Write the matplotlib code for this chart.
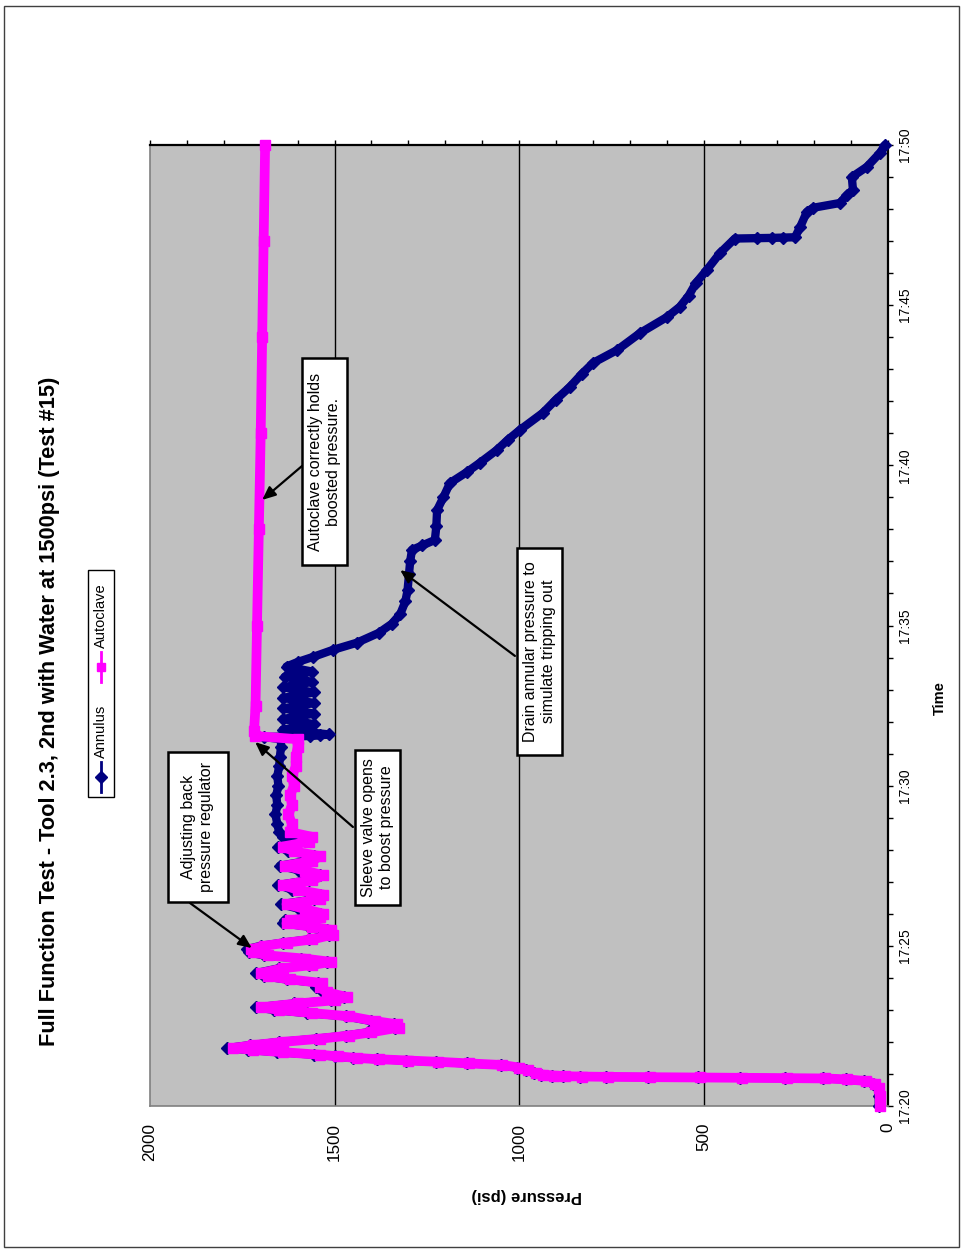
import matplotlib
matplotlib.use("Agg")
import matplotlib.pyplot as plt
from matplotlib.patches import Rectangle
from matplotlib.lines import Line2D
from matplotlib.ticker import FixedLocator, FixedFormatter, MultipleLocator

plt.rcParams['font.family'] = ['Liberation Sans', 'DejaVu Sans']

title = "Full Function Test - Tool 2.3, 2nd with Water at 1500psi (Test #15)"
series_names = ["Annulus", "Autoclave"]
x_label = "Pressure (psi)"
y_label = "Time"

# time axis: minutes after 17:20
time_ticks = [0, 5, 10, 15, 20, 25, 30]
time_tick_labels = ["17:20", "17:25", "17:30", "17:35", "17:40", "17:45", "17:50"]
pressure_ticks = [0, 500, 1000, 1500, 2000]

autoclave_min = [
    0.00, 0.30, 0.55, 0.70, 0.78, 0.83, 0.86, 0.87, 0.88, 0.89,
    0.90, 0.91, 0.92, 0.93, 0.95, 0.98, 1.03, 1.12, 1.20, 1.28,
    1.33, 1.38, 1.42, 1.46, 1.50, 1.55, 1.60, 1.68, 1.75, 1.81,
    1.90, 2.00, 2.10, 2.20, 2.30, 2.45, 2.55, 2.65, 2.80, 2.90,
    3.00, 3.08, 3.20, 3.30, 3.40, 3.55, 3.70, 3.84, 3.95, 4.05,
    4.15, 4.30, 4.40, 4.50, 4.60, 4.70, 4.80, 4.90, 5.00, 5.10,
    5.20, 5.35, 5.50, 5.60, 5.70, 5.80, 5.90, 6.00, 6.15, 6.30,
    6.45, 6.60, 6.75, 6.90, 7.05, 7.20, 7.35, 7.50, 7.65, 7.80,
    7.95, 8.10, 8.25, 8.40, 8.55, 8.80, 9.10, 9.40, 9.70, 10.00,
    10.30, 10.60, 10.90, 11.20, 11.45, 11.55, 11.70, 12.50, 15.00, 18.00,
    21.00, 24.00, 27.00, 30.00,
]
autoclave_psi = [
    22, 22, 25, 35, 60, 110, 170, 275, 395, 510,
    645, 760, 830, 875, 905, 935, 955, 975, 1000, 1045,
    1135, 1220, 1300, 1380, 1440, 1490, 1540, 1640, 1720, 1775,
    1720, 1640, 1540, 1460, 1400, 1325, 1330, 1390, 1460, 1560,
    1650, 1700, 1600, 1500, 1466, 1520, 1540, 1534, 1620, 1680,
    1700, 1640, 1560, 1510, 1580, 1680, 1720, 1725, 1690, 1630,
    1560, 1505, 1510, 1560, 1630, 1620, 1540, 1530, 1580, 1630,
    1540, 1530, 1600, 1640, 1560, 1530, 1580, 1635, 1560, 1540,
    1610, 1640, 1570, 1560, 1620, 1615, 1625, 1615, 1620, 1610,
    1615, 1605, 1605, 1600, 1600, 1715, 1718, 1714, 1710, 1705,
    1700, 1696, 1692, 1688,
]

annulus_min = [
    0.00, 0.30, 0.55, 0.70, 0.78, 0.83, 0.86, 0.87, 0.88, 0.89,
    0.90, 0.91, 0.92, 0.93, 0.95, 0.98, 1.03, 1.12, 1.20, 1.28,
    1.33, 1.38, 1.42, 1.46, 1.50, 1.55, 1.60, 1.68, 1.75, 1.81,
    1.90, 2.00, 2.10, 2.20, 2.30, 2.45, 2.55, 2.65, 2.80, 2.90,
    3.00, 3.08, 3.20, 3.30, 3.40, 3.55, 3.70, 3.84, 3.95, 4.05,
    4.15, 4.30, 4.40, 4.50, 4.60, 4.70, 4.80, 4.90, 5.00, 5.10,
    5.20, 5.35, 5.50, 5.60, 5.70, 5.80, 5.90, 6.00, 6.15, 6.30,
    6.45, 6.60, 6.75, 6.90, 7.05, 7.20, 7.35, 7.50, 7.65, 7.80,
    7.95, 8.10, 8.25, 8.40, 8.55, 8.80, 9.10, 9.40, 9.70, 10.00,
    10.30, 10.60, 10.90, 11.20, 11.45, 11.52, 11.55, 11.57, 11.60, 11.75,
    11.92, 12.08, 12.25, 12.41, 12.58, 12.74, 12.91, 13.07, 13.24, 13.40,
    13.56, 13.72, 13.86, 14.02, 14.24, 14.46, 14.77, 15.05, 15.35, 15.75,
    16.10, 16.60, 17.00, 17.36, 17.50, 17.67, 18.10, 18.60, 19.00, 19.45,
    19.80, 20.08, 20.48, 20.80, 21.11, 21.64, 22.05, 22.45, 22.85, 23.20,
    23.60, 24.13, 24.63, 24.95, 25.30, 25.70, 26.10, 26.63, 27.08, 27.09,
    27.10, 27.11, 27.12, 27.44, 27.91, 28.04, 28.19, 28.44, 28.60, 29.00,
    29.32, 29.75, 30.00,
]
annulus_psi = [
    25, 25, 28, 40, 65, 115, 175, 280, 400, 515,
    650, 765, 835, 880, 910, 940, 960, 980, 1005, 1050,
    1140, 1225, 1305, 1385, 1450, 1500, 1555, 1655, 1735, 1790,
    1730, 1650, 1550, 1470, 1410, 1335, 1340, 1400, 1470, 1575,
    1665, 1712, 1610, 1510, 1475, 1530, 1550, 1545, 1630, 1692,
    1712, 1650, 1570, 1520, 1590, 1692, 1732, 1736, 1700, 1640,
    1570, 1515, 1520, 1570, 1640, 1635, 1550, 1540, 1595, 1645,
    1555, 1540, 1615, 1652, 1570, 1540, 1595, 1648, 1575, 1555,
    1625, 1652, 1600, 1640, 1650, 1655, 1660, 1655, 1658, 1652,
    1655, 1650, 1648, 1645, 1645, 1692, 1566, 1540, 1515, 1640,
    1555, 1640, 1555, 1640, 1555, 1640, 1555, 1640, 1560, 1635,
    1560, 1630, 1600, 1558, 1504, 1440, 1380, 1345, 1322, 1308,
    1302, 1298, 1295, 1290, 1262, 1228, 1224, 1222, 1205, 1187,
    1140, 1106, 1060, 1030, 997, 935, 900, 862, 830, 799,
    734, 672, 599, 564, 540, 520, 491, 455, 415, 355,
    314, 285, 252, 238, 220, 203, 130, 111, 95, 98,
    57, 22, 8,
]

ANNULUS_COLOR = '#000080'
AUTOCLAVE_COLOR = '#ff00ff'

W, H = 964, 1252
fig = plt.figure(figsize=(W / 100, H / 100), dpi=100)
fig.patch.set_facecolor('white')


def fx(px):
    return px / W


def fy(py):
    return 1 - py / H


# page frame
fig.add_artist(Rectangle((fx(4), fy(1247)), fx(955), 1241 / H, transform=fig.transFigure,
                         fill=False, ec='#404040', lw=1.0))

ax = fig.add_axes([fx(150), fy(1106), fx(888 - 150), (1106 - 145) / H])
ax.set_facecolor('#c0c0c0')
ax.set_xlim(2000, 0)
ax.set_ylim(0, 30)

# pressure axis (drawn horizontally, increasing to the left)
ax.xaxis.set_major_locator(FixedLocator(pressure_ticks))
ax.xaxis.set_major_formatter(FixedFormatter([str(v) for v in pressure_ticks]))
ax.xaxis.set_minor_locator(MultipleLocator(100))
ax.tick_params(axis='x', which='both', bottom=False, top=True, direction='out',
               length=3.6, width=1.0, labelbottom=True, labeltop=False, pad=8.6)
for lbl in ax.get_xticklabels():
    lbl.set_rotation(90)
    lbl.set_fontsize(12.3)
    lbl.set_va('top')
    lbl.set_ha('center')

# time axis (vertical, on the right)
ax.yaxis.tick_right()
ax.yaxis.set_major_locator(FixedLocator(time_ticks))
ax.yaxis.set_major_formatter(FixedFormatter(time_tick_labels))
ax.yaxis.set_minor_locator(MultipleLocator(1))
ax.tick_params(axis='y', which='both', left=False, right=True, direction='out',
               length=3.6, width=1.0, pad=3.6)
for lbl in ax.get_yticklabels():
    lbl.set_rotation(90)
    lbl.set_fontsize(10)
    lbl.set_va('center')
    lbl.set_ha('left')

for g in pressure_ticks[1:-1]:
    ax.axvline(g, color='black', lw=1.0, zorder=1)

for side in ('top', 'right'):
    ax.spines[side].set_color('black')
    ax.spines[side].set_linewidth(1.6)
for side in ('left', 'bottom'):
    ax.spines[side].set_color('#808080')
    ax.spines[side].set_linewidth(1.2)

ax.plot(annulus_psi, annulus_min, color=ANNULUS_COLOR, lw=6.0, marker='D', ms=6.5,
        mfc=ANNULUS_COLOR, mec=ANNULUS_COLOR, solid_joinstyle='round',
        solid_capstyle='round', clip_on=False, zorder=3)
ax.plot(autoclave_psi, autoclave_min, color=AUTOCLAVE_COLOR, lw=7.0, marker='s', ms=6.5,
        mfc=AUTOCLAVE_COLOR, mec=AUTOCLAVE_COLOR, solid_joinstyle='round',
        solid_capstyle='round', clip_on=False, zorder=4)


def callout(text, p_lo, p_hi, t_lo, t_hi, start, end):
    ax.add_patch(Rectangle((p_lo, t_lo), p_hi - p_lo, t_hi - t_lo, facecolor='white',
                           edgecolor='black', lw=1.8, zorder=6, clip_on=False))
    ax.text((p_lo + p_hi) / 2, (t_lo + t_hi) / 2, text, rotation=90, ha='center',
            va='center', multialignment='center', fontsize=11.5,
            linespacing=1.25, zorder=7)
    ax.annotate('', xy=end, xytext=start, zorder=5, annotation_clip=False,
                arrowprops=dict(arrowstyle='-|>,head_length=0.8,head_width=0.35',
                                color='black', lw=1.6, shrinkA=0, shrinkB=0))


callout("Adjusting back\npressure regulator", 1789, 1951, 6.37, 11.05,
        (1892, 6.34), (1724, 4.93))
callout("Sleeve valve opens\nto boost pressure", 1322, 1444, 6.28, 11.11,
        (1450, 8.71), (1715, 11.36))
callout("Autoclave correctly holds\nboosted pressure.", 1466, 1588, 16.89, 23.35,
        (1588, 19.98), (1696, 18.92))
callout("Drain annular pressure to\nsimulate tripping out", 883, 1005, 10.96, 17.42,
        (1011, 14.05), (1322, 16.73))

# axis titles and chart title
fig.text(fx(50), fy(711), title, rotation=90, ha='center', va='center',
         fontsize=15.7, fontweight='bold')
fig.text(fx(527), fy(1195), x_label, rotation=180, ha='center', va='center',
         fontsize=12, fontweight='bold')
fig.text(fx(940), fy(698), y_label, rotation=90, ha='center', va='center',
         fontsize=10.5, fontweight='bold')

# legend, laid out vertically to follow the rotated chart
fig.add_artist(Rectangle((fx(88), fy(797)), fx(114 - 88), (797 - 570) / H,
                         transform=fig.transFigure, facecolor='white',
                         edgecolor='black', lw=1.0))
legend_rows = [
    (series_names[0], ANNULUS_COLOR, 'D', (762, 792), 777, 731),
    (series_names[1], AUTOCLAVE_COLOR, 's', (652, 682), 667, 616),
]
for name, color, mk, (y0, y1), ym, yt in legend_rows:
    fig.add_artist(Line2D([fx(101), fx(101)], [fy(y1), fy(y0)], transform=fig.transFigure,
                          color=color, lw=2.0))
    fig.add_artist(Line2D([fx(101)], [fy(ym)], transform=fig.transFigure, color=color,
                          marker=mk, ms=6, mfc=color, mec=color, lw=0))
    fig.text(fx(101), fy(yt), name, rotation=90, ha='center', va='center',
             fontsize=10.5)

fig.savefig('out.png', dpi=100)
